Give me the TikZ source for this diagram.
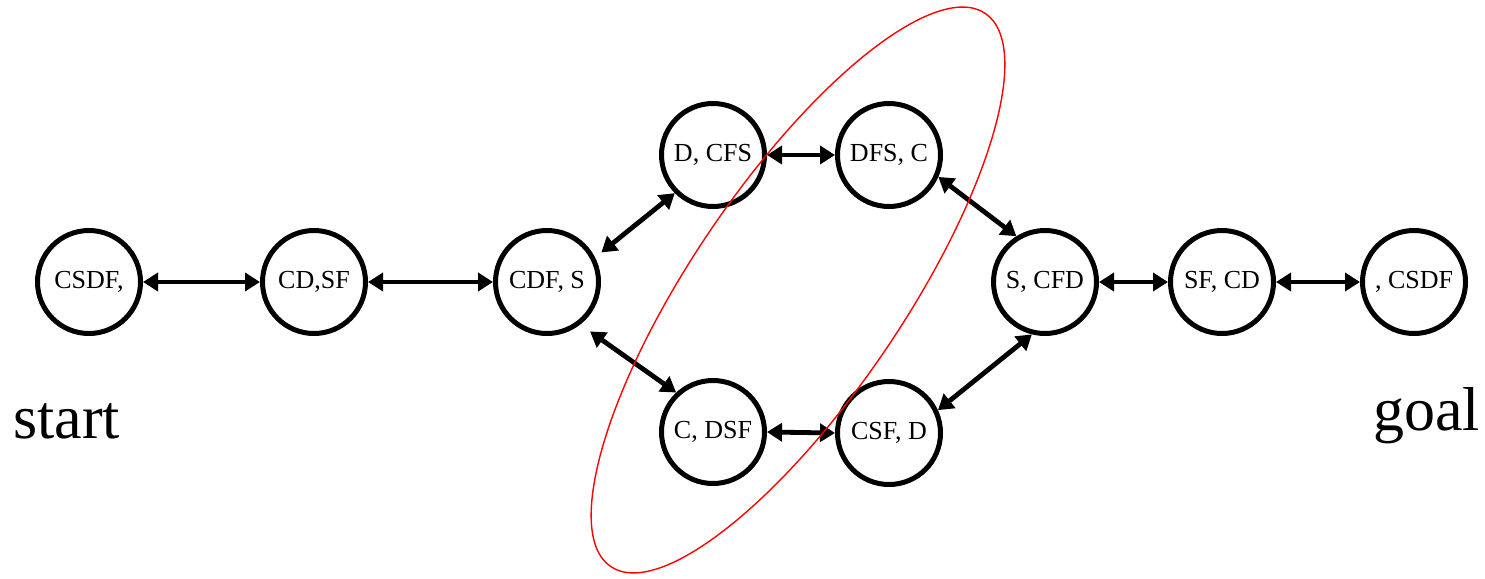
\documentclass[tikz,border=0pt]{standalone}
\usepackage{fontspec}
\setmainfont{Liberation Serif}
\usetikzlibrary{arrows.meta}
\begin{document}
\begin{tikzpicture}[x=1pt,y=1pt,
  state/.style={circle, draw, line width=5pt, minimum size=103pt, inner sep=0pt, font=\fontsize{26}{30}\selectfont},
  biarrow/.style={line width=4.8pt, {Triangle[length=15pt,width=18pt]}-{Triangle[length=15pt,width=18pt]}},
  bigtext/.style={font=\fontsize{62}{70}\selectfont, inner sep=0pt},
  region/.style={draw=red, line width=1.4pt}]
\useasboundingbox (0,0) rectangle (1485,-578);

\node[state] (csdf)  at (89,-282)   {CSDF,\hspace{16pt}};
\node[state] (cdsf)  at (314,-282)  {CD,SF};
\node[state] (cdfs)  at (547,-282)  {CDF, S};
\node[state] (dcfs)  at (713,-155)  {D, CFS};
\node[state] (dfsc)  at (889,-155)  {DFS, C};
\node[state] (cdsfL) at (713,-432)  {C, DSF};
\node[state] (csfd)  at (889,-433)  {CSF, D};
\node[state] (scfd)  at (1045,-282) {S, CFD};
\node[state] (sfcd)  at (1222,-282) {SF, CD};
\node[state] (ecsdf) at (1414,-282) {, CSDF};

\node[bigtext, anchor=base west] (start) at (13,-438) {start};
\node[bigtext, anchor=base east] (goal) at (1480,-430) {goal};

\draw[biarrow] (csdf.east) -- (cdsf.west);
\draw[biarrow] (cdsf.east) -- (cdfs.west);
\draw[biarrow, shorten <=8pt] (cdfs.27) -- (dcfs.225);
\draw[biarrow, shorten <=12pt] (cdfs.-52) -- (cdsfL.133);
\draw[biarrow] (dcfs.east) -- (dfsc.west);
\draw[biarrow] (cdsfL.east) -- (csfd.west);
\draw[biarrow] (dfsc.-24) -- (scfd.122);
\draw[biarrow] (csfd.25) -- (scfd.-104);
\draw[biarrow] (scfd.east) -- (sfcd.west);
\draw[biarrow] (sfcd.east) -- (ecsdf.west);

\draw[region, rotate around={55.9:(798,-290)}] (798,-290) ellipse [x radius=334, y radius=106];
\end{tikzpicture}
\end{document}
